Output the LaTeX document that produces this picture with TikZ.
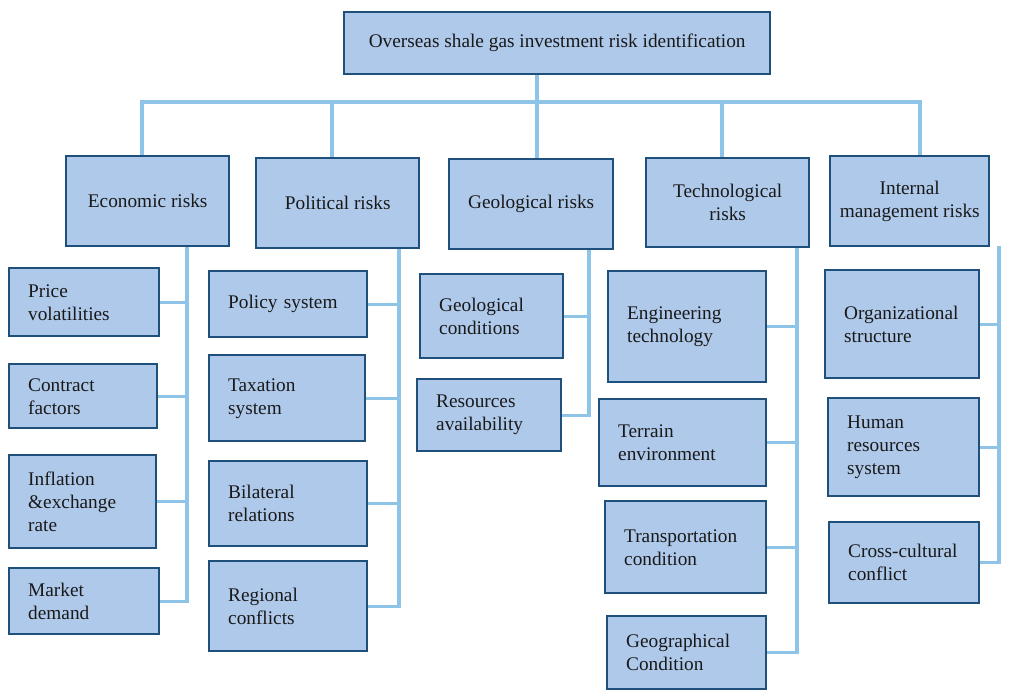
\documentclass[tikz,border=0pt]{standalone}
\usepackage{fontspec}
\setmainfont{Liberation Serif}
\usetikzlibrary{backgrounds}
\definecolor{boxfill}{RGB}{175,201,234}
\definecolor{boxline}{RGB}{31,80,123}
\definecolor{linkblue}{RGB}{141,196,232}
\tikzset{
  riskbox/.style={draw=boxline, fill=boxfill, line width=1.2pt, inner sep=0pt, text=black!90},
  leaf/.style={riskbox, inner xsep=9.5pt, align=left},
  link/.style={draw=linkblue, line width=1.7pt, line cap=rect},
}
\begin{document}
\begin{tikzpicture}[x=0.5pt, y=-0.5pt, font=\fontsize{9.65}{11.5}\selectfont, line join=miter]
\useasboundingbox (0,0) rectangle (1024,698);
% goal and the five risk groups
\foreach \n/\x/\y/\w/\h/\t in {
  root/343/11/426/62/{Overseas shale gas investment risk identification},
  eco/65/155/163/90/{Economic risks},
  pol/255/157/163/90/{Political risks},
  geo/448/158/164/90/{Geological risks},
  tec/645/157/163/89/{Technological\\risks},
  man/829/155/159/90/{Internal\\management risks}}{
  \pgfmathsetmacro\bw{\w/2}
  \pgfmathsetmacro\bh{\h/2}
  \node[riskbox, align=center, minimum width=\bw pt, minimum height=\bh pt, anchor=north west] (\n) at (\x,\y) {\t};
}
% risk factors
\foreach \n/\x/\y/\w/\h/\t in {
  pv/8/267/150/68/{Price\\volatilities},
  cf/8/363/148/64/{Contract\\factors},
  ie/8/454/147/93/{Inflation\\\&exchange\\rate},
  md/8/567/150/66/{Market\\demand},
  ps/208/270/158/66/{Policy system},
  ts/208/354/156/86/{Taxation\\system},
  br/208/460/158/85/{Bilateral\\relations},
  rc/208/560/158/90/{Regional\\conflicts},
  gc/419/273/143/84/{Geological\\conditions},
  ra/416/378/144/72/{Resources\\availability},
  et/607/270/158/111/{Engineering\\technology},
  te/598/398/167/87/{Terrain\\environment},
  tc/604/500/161/92/{Transportation\\condition},
  gco/606/615/159/73/{Geographical\\Condition},
  os/824/269/154/108/{Organizational\\structure},
  hr/827/397/151/98/{Human\\resources\\system},
  cc/828/521/150/81/{Cross-cultural\\conflict}}{
  \pgfmathsetmacro\tw{\w/2-19}
  \pgfmathsetmacro\bh{\h/2}
  \node[leaf, text width=\tw pt, minimum height=\bh pt, anchor=north west] (\n) at (\x,\y) {\t};
}
\path
  (142,102) coordinate (eD) (332,102) coordinate (pD) (537,102) coordinate (gD)
  (722,102) coordinate (tD) (920,102) coordinate (mD)
  (187,0) coordinate (eT) (399,0) coordinate (pT) (589,0) coordinate (gT)
  (797,0) coordinate (tT) (999,0) coordinate (mT);
\begin{scope}[on background layer]
  \draw[link] (eD) -- (mD);
  \draw[link] (root.south -| gD) -- (gD);
  \foreach \d/\n in {eD/eco,pD/pol,gD/geo,tD/tec,mD/man}
    \draw[link] (\d) -- (\d |- \n.north);
  \foreach \t/\n/\kids in {eT/eco/{pv,cf,ie,md}, pT/pol/{ps,ts,br,rc}, gT/geo/{gc,ra},
      tT/tec/{et,te,tc,gco}, mT/man/{os,hr,cc}}
    \foreach \k in \kids
      \draw[link] (\n.south -| \t) |- (\k.east);
\end{scope}
\end{tikzpicture}
\end{document}
